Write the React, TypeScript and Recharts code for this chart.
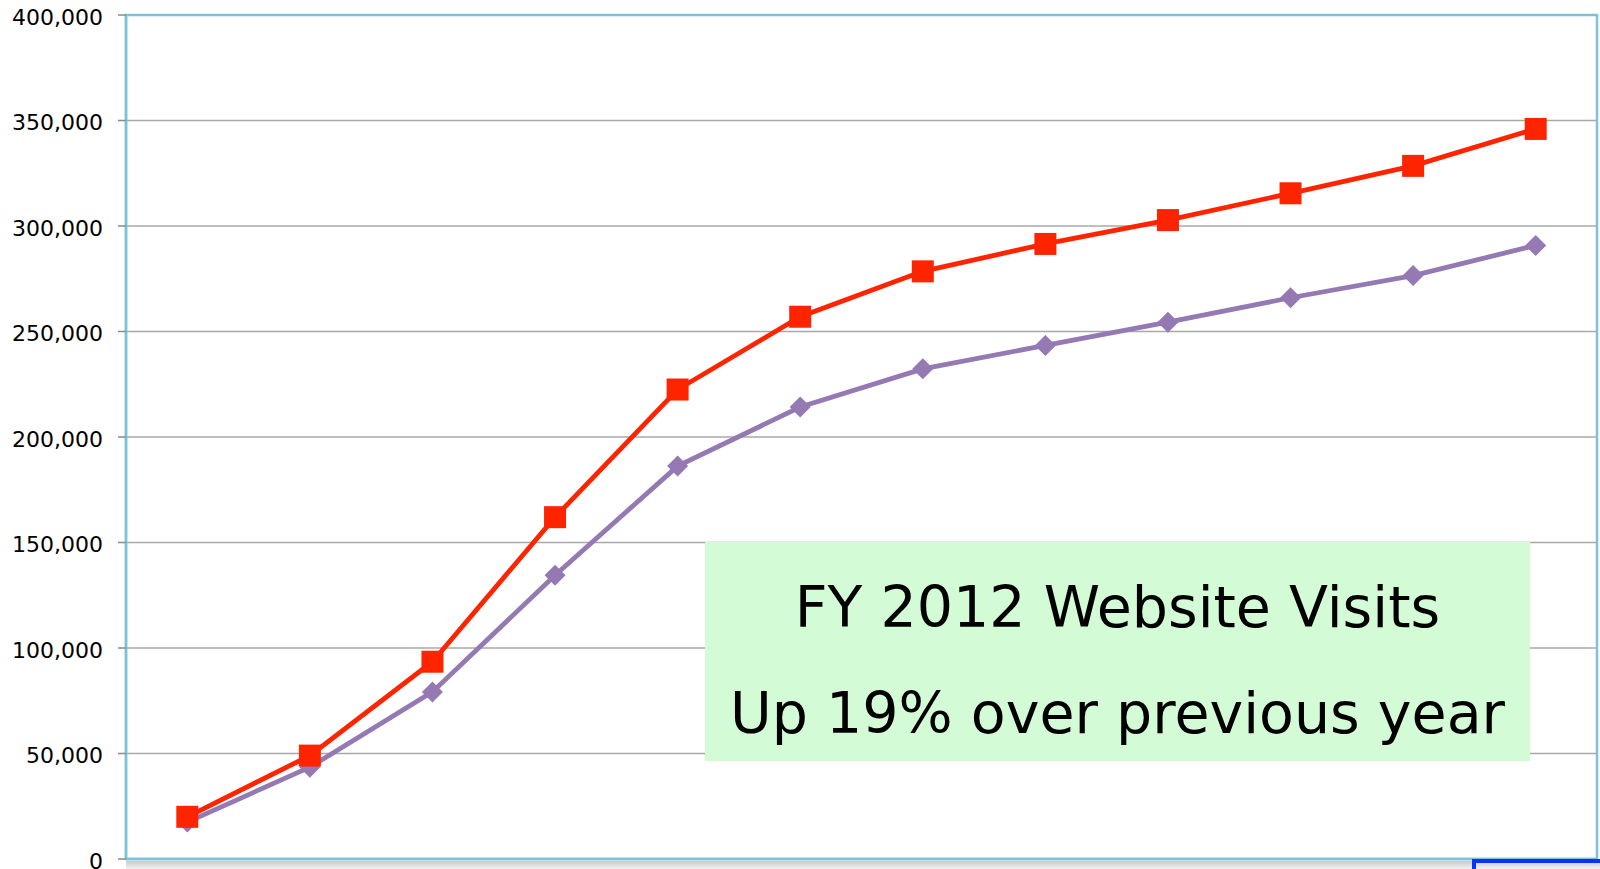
import React from "react";
import { LineChart, Line, XAxis, YAxis, CartesianGrid, ReferenceArea } from "recharts";

// FY 2012 runs Oct 2011 - Sep 2012; axis labels sit below the visible frame
const MONTHS = ["Oct", "Nov", "Dec", "Jan", "Feb", "Mar", "Apr", "May", "Jun", "Jul", "Aug", "Sep"];
const FY2012 = [20000, 49000, 93500, 162000, 222500, 257000, 278500, 291500, 302800, 315500, 328500, 346000];
const FY2011 = [17500, 43500, 79200, 134500, 186200, 214200, 232300, 243400, 254400, 266000, 276500, 290800];
const Y_TICKS = [0, 50000, 100000, 150000, 200000, 250000, 300000, 350000, 400000];
const BOUNDS = [0.5, 1.5, 2.5, 3.5, 4.5, 5.5, 6.5, 7.5, 8.5, 9.5, 10.5, 11.5, 12.5];

const data = MONTHS.map((m, i) => ({ idx: i + 1, month: m, fy2012: FY2012[i], fy2011: FY2011[i] }));

const RED = "#ff2400";
const PURPLE = "#9479b3";
const FRAME = "#7cc3d8";
const FONT = "'DejaVu Sans', Verdana, sans-serif";

const squareDot = (p: any) => (
  <rect key={`sq-${p.index}`} x={p.cx - 11} y={p.cy - 11} width={22} height={22} fill={RED} />
);

const diamondDot = (p: any) => (
  <path
    key={`dm-${p.index}`}
    d={`M${p.cx},${p.cy - 10.5} L${p.cx + 10.5},${p.cy} L${p.cx},${p.cy + 10.5} L${p.cx - 10.5},${p.cy} Z`}
    fill={PURPLE}
  />
);

export default function App() {
  return (
    <div
      style={{
        position: "absolute",
        left: 0,
        top: 0,
        width: 1600,
        height: 869,
        overflow: "hidden",
        background: "#fff",
        fontFamily: FONT,
      }}
    >
      {/* soft shadow under the category axis */}
      <div
        style={{
          position: "absolute",
          left: 126,
          top: 861,
          width: 1474,
          height: 8,
          background: "linear-gradient(#c9c9c9, #f2f2f2)",
        }}
      />
      <div style={{ position: "absolute", left: 0, top: 0 }}>
        <LineChart width={1600} height={869} data={data} margin={{ top: 15, right: 3, left: 0, bottom: 0 }}>
          <CartesianGrid vertical={false} stroke="#a8a8a8" strokeWidth={1.3} />
          <XAxis
            type="number"
            dataKey="idx"
            domain={[0.5, 12.5]}
            ticks={BOUNDS}
            tick={false}
            height={10}
            tickSize={10}
            axisLine={{ stroke: FRAME, strokeWidth: 2.5 }}
            tickLine={{ stroke: "#8a8a8a", strokeWidth: 1.5 }}
          />
          <YAxis
            domain={[0, 400000]}
            ticks={Y_TICKS}
            width={126}
            tickSize={8}
            tickMargin={15}
            interval={0}
            tickFormatter={(v: number) => v.toLocaleString("en-US")}
            tick={{ fontSize: 22, fill: "#000", fontFamily: FONT, dy: 2 }}
            axisLine={{ stroke: FRAME, strokeWidth: 2.5 }}
            tickLine={{ stroke: "#8a8a8a", strokeWidth: 1.5 }}
          />
          <ReferenceArea x1={0.5} x2={12.5} y1={0} y2={400000} fill="none" stroke={FRAME} strokeWidth={2.5} ifOverflow="visible" />
          <Line
            dataKey="fy2011"
            stroke={PURPLE}
            strokeWidth={4.8}
            dot={diamondDot}
            activeDot={false}
            isAnimationActive={false}
          />
          <Line
            dataKey="fy2012"
            stroke={RED}
            strokeWidth={4.8}
            dot={squareDot}
            activeDot={false}
            isAnimationActive={false}
          />
        </LineChart>
      </div>
      <div
        style={{
          position: "absolute",
          left: 705,
          top: 542,
          width: 825,
          height: 219,
          background: "#d3fbd5",
          boxSizing: "border-box",
          paddingTop: 12,
          textAlign: "center",
          fontSize: 57,
          lineHeight: "106px",
          color: "#000",
          whiteSpace: "nowrap",
        }}
      >
        <div>FY 2012 Website Visits</div>
        <div>Up 19% over previous year</div>
      </div>
      <div
        style={{
          position: "absolute",
          left: 1472,
          top: 859,
          width: 140,
          height: 30,
          border: "4px solid #0a32ff",
          boxSizing: "border-box",
        }}
      />
    </div>
  );
}
